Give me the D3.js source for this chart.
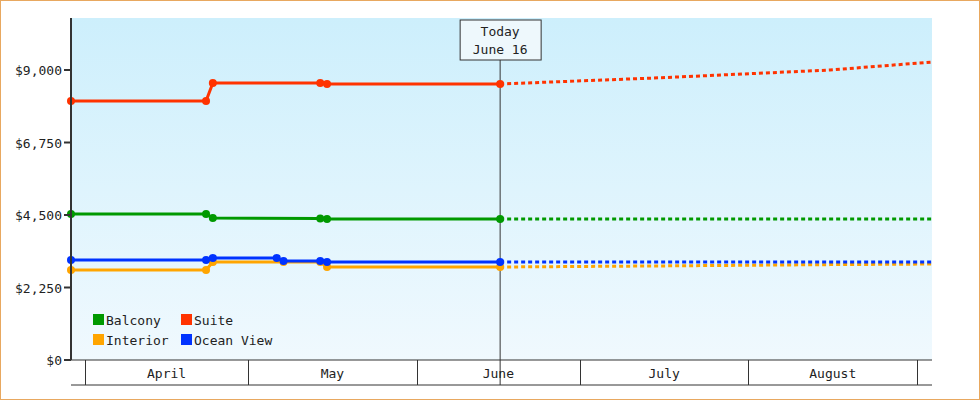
<!DOCTYPE html><html><head><meta charset="utf-8">
<script src="https://cdn.jsdelivr.net/npm/d3@7"></script>
<style>body{margin:0;background:#fff}text{font-family:"DejaVu Sans Mono",monospace;font-size:13px;fill:#222}</style>
</head><body><svg id="c" width="980" height="400"></svg><script>
const seriesNames=["Balcony","Suite","Interior","Ocean View"];
const colors=["#009900","#ff3300","#ffa500","#0033ff"];
const balconyDates=["2013-03-29T10","2013-04-23T06","2013-04-24T12","2013-05-14T06","2013-05-15T12","2013-06-16T08"];
const balconyVals=[4531,4531,4407,4390,4376,4376];
const suiteDates=["2013-03-29T10","2013-04-23T06","2013-04-24T12","2013-05-14T06","2013-05-15T12","2013-06-16T08"];
const suiteVals=[8038,8038,8597,8597,8566,8566];
const interiorDates=["2013-03-29T10","2013-04-23T06","2013-04-24T12","2013-05-07T12","2013-05-14T06","2013-05-15T12","2013-06-16T08"];
const interiorVals=[2793,2793,3041,3041,3041,2886,2886];
const oceanDates=["2013-03-29T10","2013-04-23T06","2013-04-24T12","2013-05-06T06","2013-05-07T12","2013-05-14T06","2013-05-15T12","2013-06-16T08"];
const oceanVals=[3103,3103,3166,3166,3072,3072,3041,3041];
const projDates=["2013-06-16T08","2013-07-16T00","2013-08-16T00","2013-09-03T18"];
const balconyProj=[4376,4376,4376,4376];
const suiteProj=[8566,8760,9000,9248];
const interiorProj=[2886,2920,2960,2979];
const oceanProj=[3041,3041,3041,3041];
const yTicks=[0,2250,4500,6750,9000];
const monthTicks=["2013-04-01T00","2013-05-01T00","2013-06-01T00","2013-07-01T00","2013-08-01T00","2013-09-01T00"];
const monthLabels=["April","May","June","July","August"];
const todayDate="2013-06-16T08";

const P=d3.timeParse("%Y-%m-%dT%H");
const L=71,R=932,T=18,B=360;
const x=d3.scaleTime().domain([P("2013-03-29T10"),P("2013-09-03T18")]).range([L,R]);
const y=d3.scaleLinear().domain([0,10614]).range([B,T]);
const svg=d3.select("#c");
svg.append("rect").attr("x",0.5).attr("y",0.5).attr("width",979).attr("height",399).attr("fill","#fff").attr("stroke","#e8a860");
const g=svg.append("defs").append("linearGradient").attr("id","bg").attr("x1",0).attr("x2",0).attr("y1",0).attr("y2",1);
g.append("stop").attr("offset",0).attr("stop-color","#cdeffc");
g.append("stop").attr("offset",1).attr("stop-color","#f0f9fe");
svg.append("rect").attr("x",L).attr("y",T).attr("width",R-L).attr("height",B-T).attr("fill","url(#bg)");

const actual=[[balconyDates,balconyVals],[suiteDates,suiteVals],[interiorDates,interiorVals],[oceanDates,oceanVals]];
const proj=[balconyProj,suiteProj,interiorProj,oceanProj];
const line=d3.line().x(d=>x(d[0])).y(d=>y(d[1]));
const tx=x(P(todayDate));
svg.append("line").attr("x1",tx).attr("x2",tx).attr("y1",60).attr("y2",385).attr("stroke","#333");
[2,3,0,1].forEach(i=>{
  const pts=actual[i][0].map((d,k)=>[P(d),actual[i][1][k]]);
  const pp=projDates.map((d,k)=>[P(d),proj[i][k]]);
  svg.append("path").attr("d",line(pp)).attr("fill","none").attr("stroke",colors[i]).attr("stroke-width",3).attr("stroke-dasharray","4,3");
  svg.append("path").attr("d",line(pts)).attr("fill","none").attr("stroke",colors[i]).attr("stroke-width",3);
  svg.selectAll(null).data(pts).enter().append("circle").attr("cx",d=>x(d[0])).attr("cy",d=>y(d[1])).attr("r",4).attr("fill",colors[i]);
});
svg.append("rect").attr("x",tx-40).attr("y",20).attr("width",81).attr("height",40).attr("fill","#eef8fc").attr("stroke","#333");
svg.append("text").attr("x",tx).attr("y",36).attr("text-anchor","middle").text("Today");
svg.append("text").attr("x",tx).attr("y",54).attr("text-anchor","middle").text("June 16");
svg.append("line").attr("x1",L).attr("x2",L).attr("y1",T).attr("y2",B).attr("stroke","#333").attr("stroke-width",2);
yTicks.forEach(v=>{
  svg.append("line").attr("x1",L-7).attr("x2",L).attr("y1",y(v)).attr("y2",y(v)).attr("stroke","#333").attr("stroke-width",2);
  svg.append("text").attr("x",L-9).attr("y",y(v)+5).attr("text-anchor","end").text(d3.format("$,")(v));
});
svg.append("line").attr("x1",L).attr("x2",R).attr("y1",B).attr("y2",B).attr("stroke","#333");
svg.append("line").attr("x1",L).attr("x2",R).attr("y1",385).attr("y2",385).attr("stroke","#333");
monthTicks.forEach(m=>{const mx=Math.round(x(P(m)))+0.5;svg.append("line").attr("x1",mx).attr("x2",mx).attr("y1",B).attr("y2",385).attr("stroke","#333");});
monthLabels.forEach((t,k)=>{
  const a=x(P(monthTicks[k])),b=x(P(monthTicks[k+1]));
  svg.append("text").attr("x",(a+b)/2).attr("y",378).attr("text-anchor","middle").text(t);
});
[[0,93,320],[1,181,320],[2,93,340],[3,181,340]].forEach(([i,lx,ly])=>{
  svg.append("rect").attr("x",lx).attr("y",ly-6).attr("width",11).attr("height",11).attr("fill",colors[i]);
  svg.append("text").attr("x",lx+13).attr("y",ly+5).text(seriesNames[i]);
});
</script></body></html>
